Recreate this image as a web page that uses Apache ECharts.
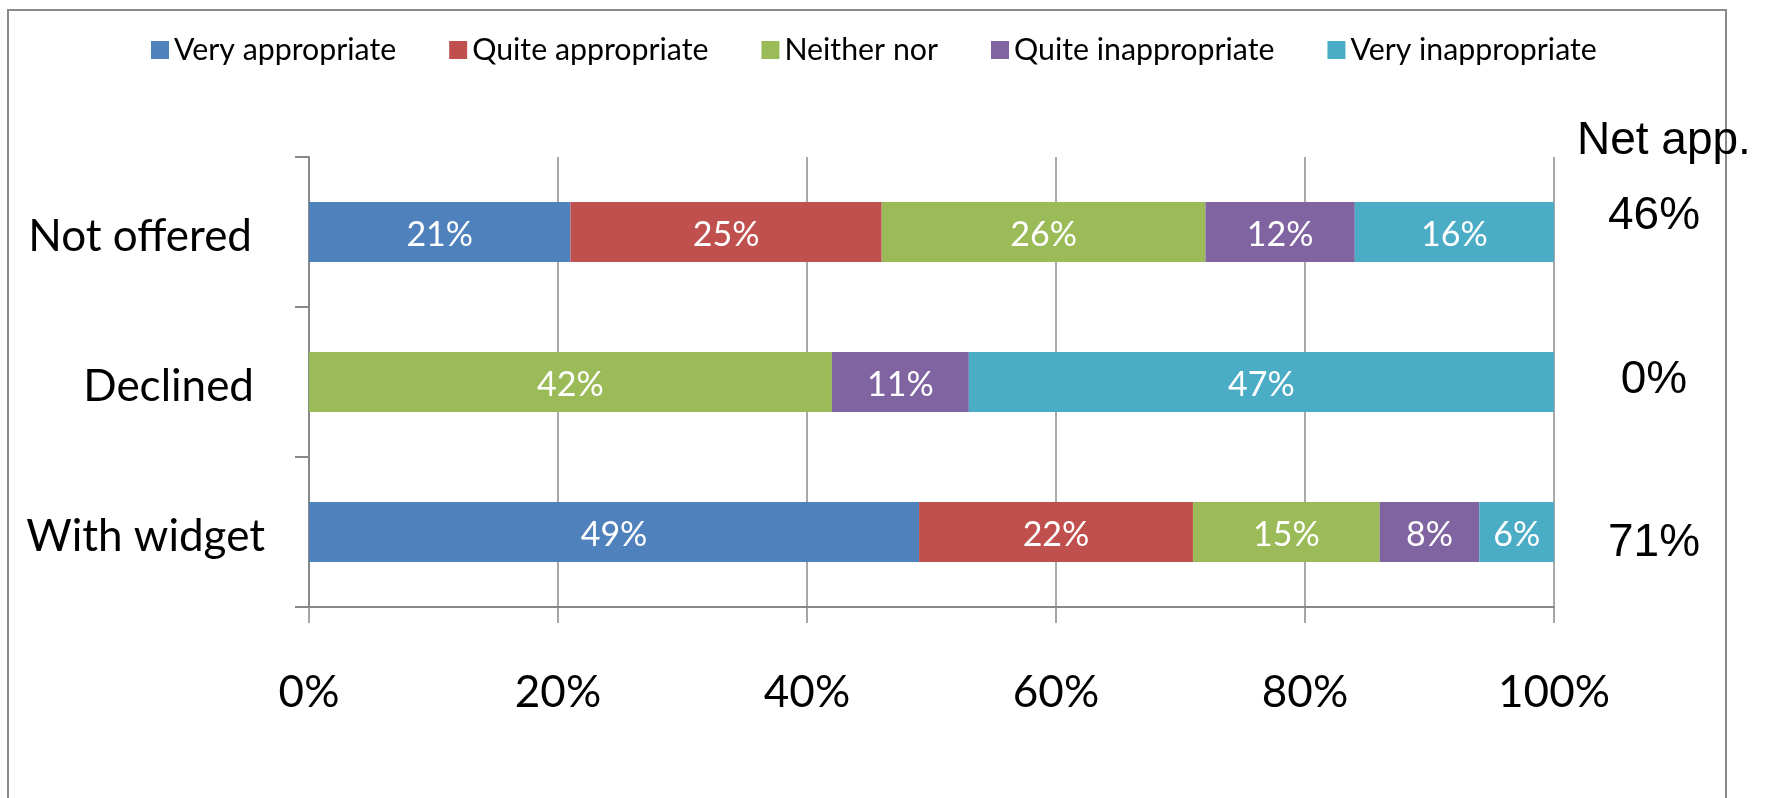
<!DOCTYPE html>
<html>
<head>
<meta charset="utf-8">
<script src="https://cdn.jsdelivr.net/npm/echarts@6/dist/echarts.min.js"></script>
<style>
html,body{margin:0;padding:0;background:#fff;}
#chart{width:1771px;height:798px;}
</style>
</head>
<body>
<div id="chart"></div>
<script>
const categories = ['Not offered', 'Declined', 'With widget'];
const seriesNames = ['Very appropriate', 'Quite appropriate', 'Neither nor', 'Quite inappropriate', 'Very inappropriate'];
const veryAppropriate = [21, 0, 49];
const quiteAppropriate = [25, 0, 22];
const neitherNor = [26, 42, 15];
const quiteInappropriate = [12, 11, 8];
const veryInappropriate = [16, 47, 6];
const netApp = ['46%', '0%', '71%'];
const netAppTitle = 'Net app.';
const colors = ['#4F81BD', '#C0504D', '#9BBB59', '#8064A2', '#4BACC6'];

// layout-only tweaks (label nudges, in px)
const catLabelPadRight = [13, 11, 0];
const netLabelShiftY = [-16, -2, 11];

const seriesValues = [veryAppropriate, quiteAppropriate, neitherNor, quiteInappropriate, veryInappropriate];
const calibriLike = 'Lato, "Open Sans", sans-serif';
const arialLike = '"Liberation Sans", Arial, sans-serif';

const catRich = {};
categories.forEach(function (c, i) {
  catRich['c' + i] = {fontFamily: calibriLike, fontSize: 44, color: '#000', padding: [9, catLabelPadRight[i], 0, 0]};
});
const netRich = {};
netApp.forEach(function (v, i) {
  const s = netLabelShiftY[i];
  netRich['n' + i] = {fontFamily: arialLike, fontSize: 46, color: '#000',
    padding: s < 0 ? [0, 0, -2 * s, 0] : [2 * s, 0, 0, 0]};
});

const chart = echarts.init(document.getElementById('chart'), null, {renderer: 'canvas'});
const option = {
  backgroundColor: '#fff',
  animation: false,
  color: colors,
  title: {
    text: netAppTitle,
    left: 1572,
    top: 113,
    textStyle: {fontFamily: arialLike, fontSize: 46, fontWeight: 'normal', color: '#000'}
  },
  legend: {
    left: 146,
    top: 30,
    itemWidth: 18,
    itemHeight: 18,
    itemGap: 53,
    icon: 'rect',
    textStyle: {fontFamily: calibriLike, fontSize: 30.3, color: '#000'},
    data: seriesNames
  },
  graphic: [{
    type: 'rect',
    z: -10,
    silent: true,
    shape: {x: 8, y: 10, width: 1718, height: 900},
    style: {fill: 'none', stroke: '#8a8a8a', lineWidth: 2}
  }],
  grid: {left: 309, right: 217, top: 157, bottom: 191, containLabel: false},
  xAxis: {
    type: 'value',
    min: 0, max: 100, interval: 20,
    axisLine: {show: true, lineStyle: {color: '#888', width: 2}},
    axisTick: {show: true, length: 16, lineStyle: {color: '#888', width: 1.5}},
    splitLine: {show: true, lineStyle: {color: '#8c8c8c', width: 1.5}},
    axisLabel: {formatter: '{value}%', margin: 64, fontFamily: calibriLike, fontSize: 44, color: '#000'}
  },
  yAxis: [{
    type: 'category',
    data: categories,
    inverse: true,
    axisLine: {show: true, lineStyle: {color: '#888', width: 2}},
    axisTick: {show: true, length: 14, lineStyle: {color: '#888', width: 2}},
    axisLabel: {
      margin: 44,
      formatter: function (v, i) { return '{c' + i + '|' + v + '}'; },
      rich: catRich
    }
  }, {
    type: 'category',
    data: categories,
    inverse: true,
    position: 'right',
    axisLine: {show: false},
    axisTick: {show: false},
    axisLabel: {
      margin: 100, align: 'center',
      formatter: function (v, i) { return '{n' + i + '|' + netApp[i] + '}'; },
      rich: netRich
    }
  }],
  series: seriesNames.map(function (name, k) {
    return {
      name: name,
      type: 'bar',
      stack: 'total',
      barWidth: 60,
      data: seriesValues[k],
      label: {
        show: true,
        position: 'inside',
        offset: [0, 3],
        color: '#fff',
        fontFamily: calibriLike,
        fontSize: 34,
        formatter: function (p) { return p.value ? p.value + '%' : ''; }
      }
    };
  })
};
chart.setOption(option);
</script>
</body>
</html>
